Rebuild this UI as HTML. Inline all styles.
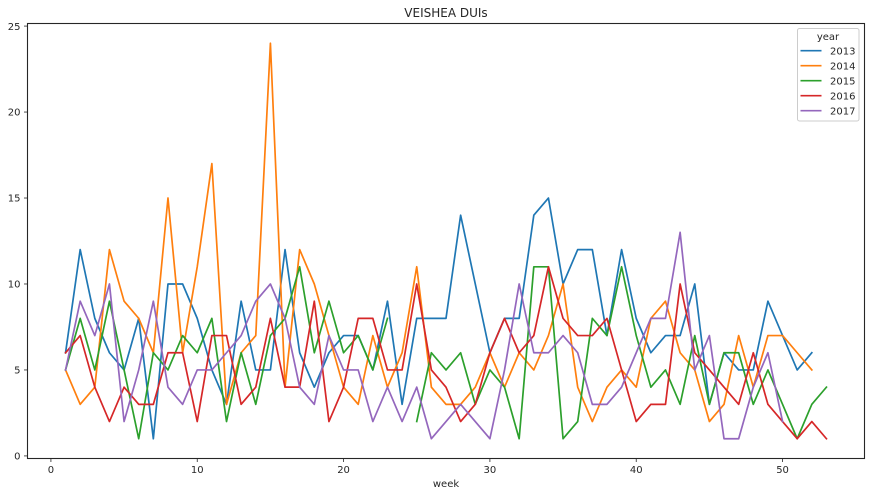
<!DOCTYPE html>
<html>
<head>
<meta charset="utf-8">
<title>VEISHEA DUIs</title>
<style>
html,body{margin:0;padding:0;background:#fff;width:871px;height:496px;overflow:hidden}
svg{display:block}
text{font-family:"DejaVu Sans","Liberation Sans",sans-serif;fill:#262626}
</style>
</head>
<body>
<svg id="chart" xmlns="http://www.w3.org/2000/svg" width="871" height="496" viewBox="0 0 871 496">
<rect x="0" y="0" width="871" height="496" fill="#fff"/>
<g id="series-layer"></g>
<g id="axis-layer"></g>
<rect x="27.5" y="23.5" width="837" height="435" fill="none" stroke="#262626" stroke-width="1.1"/>
<text x="446" y="17" font-size="12" text-anchor="middle">VEISHEA DUIs</text>
<text x="446" y="487" font-size="10" text-anchor="middle">week</text>
<g id="legend">
<rect x="797.5" y="28.5" width="61.5" height="92.5" rx="2" fill="#fff" fill-opacity="0.8" stroke="#ccc" stroke-width="1"/>
<text x="828" y="40" font-size="10" text-anchor="middle">year</text>
</g>
</svg>
<script>
const weeks = [1,2,3,4,5,6,7,8,9,10,11,12,13,14,15,16,17,18,19,20,21,22,23,24,25,26,27,28,29,30,31,32,33,34,35,36,37,38,39,40,41,42,43,44,45,46,47,48,49,50,51,52,53];
const years = ['2013','2014','2015','2016','2017'];
const colors = ['#1f77b4','#ff7f0e','#2ca02c','#d62728','#9467bd'];
const xTicks = [0,10,20,30,40,50];
const yTicks = [0,5,10,15,20,25];
const values2013 = [6,12,8,6,5,8,1,10,10,8,5,3,9,5,5,12,6,4,6,7,7,5,9,3,8,8,8,14,10,6,8,8,14,15,10,12,12,7,12,8,6,7,7,10,3,6,5,5,9,7,5,6,null];
const values2014 = [5,3,4,12,9,8,6,15,6,11,17,3,6,7,24,4,12,10,7,4,3,7,4,6,11,4,3,3,4,6,4,6,5,7,10,4,2,4,5,4,8,9,6,5,2,3,7,4,7,7,6,5,null];
const values2015 = [5,8,5,9,5,1,6,5,7,6,8,2,6,3,7,8,11,6,9,6,7,5,8,null,2,6,5,6,3,5,4,1,11,11,1,2,8,7,11,7,4,5,3,7,3,6,6,3,5,3,1,3,4];
const values2016 = [6,7,4,2,4,3,3,6,6,2,7,7,3,4,8,4,4,9,2,4,8,8,5,5,10,5,4,2,3,6,8,6,7,11,8,7,7,8,5,2,3,3,10,6,5,4,3,6,3,2,1,2,1];
const values2017 = [5,9,7,10,2,5,9,4,3,5,5,6,7,9,10,8,4,3,7,5,5,2,4,2,4,1,2,3,2,1,5,10,6,6,7,6,3,3,4,6,8,8,13,5,7,1,1,4,6,2,null,null,null];
const seriesValues = [values2013,values2014,values2015,values2016,values2017];

const NS = 'http://www.w3.org/2000/svg';
const plotLeft = 27.5, plotRight = 864.5, plotTop = 23.5, plotBottom = 458.5;
const xMin = -1.6, xMax = 55.6, yMin = -0.15, yMax = 25.15;
function xScale(v){ return plotLeft + (v - xMin) / (xMax - xMin) * (plotRight - plotLeft); }
function yScale(v){ return plotBottom - (v - yMin) / (yMax - yMin) * (plotBottom - plotTop); }
function make(tag, attrs, parent){
  const el = document.createElementNS(NS, tag);
  for (const k in attrs) el.setAttribute(k, attrs[k]);
  parent.appendChild(el);
  return el;
}
const seriesLayer = document.getElementById('series-layer');
const axisLayer = document.getElementById('axis-layer');
const legend = document.getElementById('legend');

seriesValues.forEach(function(vals, i){
  let d = '', pen = false;
  vals.forEach(function(v, j){
    if (v === null) { pen = false; return; }
    d += (pen ? 'L' : 'M') + xScale(weeks[j]).toFixed(2) + ' ' + yScale(v).toFixed(2);
    pen = true;
  });
  const path = make('path', {d: d, fill: 'none', stroke: colors[i], 'stroke-width': 1.7, 'stroke-linejoin': 'round', 'stroke-linecap': 'square'}, seriesLayer);
  
  

  const ly = 50.7 + i * 15;
  const handle = make('line', {x1: 800.5, x2: 821.5, y1: ly, y2: ly, stroke: colors[i], 'stroke-width': 1.6}, legend);
  
  
  const label = make('text', {x: 830, y: ly + 3.6, 'font-size': 10}, legend);
  
  
  label.textContent = years[i];
});

xTicks.forEach(function(t){
  const px = xScale(t);
  const tick = make('line', {x1: px, x2: px, y1: plotBottom, y2: plotBottom + 3.5, stroke: '#262626', 'stroke-width': 0.8}, axisLayer);
  
  
  const label = make('text', {x: px, y: 473, 'font-size': 10, 'text-anchor': 'middle'}, axisLayer);
  
  
  label.textContent = t;
});
yTicks.forEach(function(t){
  const py = yScale(t);
  const tick = make('line', {x1: plotLeft - 3.5, x2: plotLeft, y1: py, y2: py, stroke: '#262626', 'stroke-width': 0.8}, axisLayer);
  
  
  const label = make('text', {x: 20.5, y: py + 3.7, 'font-size': 10, 'text-anchor': 'end'}, axisLayer);
  
  
  label.textContent = t;
});
</script>
</body>
</html>
